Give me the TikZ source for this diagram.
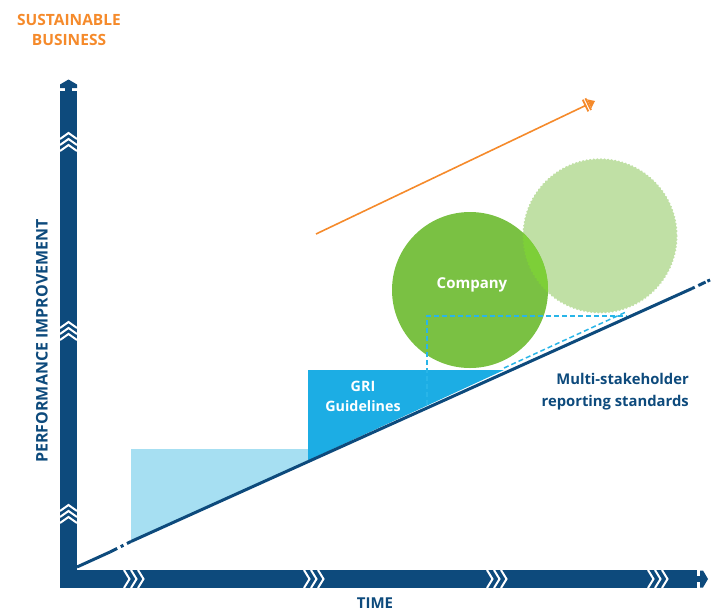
\documentclass[tikz,border=0pt]{standalone}
\usepackage{fontspec}
\setmainfont{Open Sans}
\usetikzlibrary{calc,decorations.pathmorphing}
\definecolor{navy}{HTML}{0D4A7C}
\definecolor{lblue}{HTML}{A6DFF2}
\definecolor{griblue}{HTML}{1CADE4}
\definecolor{dashblue}{HTML}{29B5E8}
\definecolor{cgreen}{HTML}{7AC143}
\definecolor{lgreen}{HTML}{C0E0A5}
\definecolor{ovgreen}{HTML}{7DCF38}
\definecolor{orng}{HTML}{F58A2B}
\begin{document}
\begin{tikzpicture}[x=1pt,y=-1pt,
  lbl/.style={inner sep=0pt, align=center},
  chev/.style={draw=white, line width=2pt, line join=miter},
  scallop/.style={decorate, decoration={snake, segment length=3.6pt, amplitude=0.7pt}}]
\useasboundingbox (0,0) rectangle (718,611);
% axes
\fill[navy] (60,91) rectangle (77,588);
\fill[navy] (60,570) rectangle (697,588);
\fill[navy] (65,86) rectangle (72,92);
\fill[navy] (60,88) -- (60,84.5) -- (68.5,79.5) -- (77,84.5) -- (77,88) -- cycle;
\fill[navy] (696,576) rectangle (702,582);
\fill[navy] (700,570.5) -- (703,570.5) -- (708,579) -- (703,587.5) -- (700,587.5) -- cycle;
% chevrons
\foreach \y in {133,322,505}{
  \foreach \k in {0,6,12}{
    \draw[chev] (60,\y+\k+6) -- (68.5,\y+\k) -- (77,\y+\k+6);
  }}
\foreach \x in {124,304,487,648}{
  \foreach \k in {0,7,14}{
    \draw[chev] (\x+\k,570) -- (\x+\k+5.5,579) -- (\x+\k,588);
  }}
% labels
\node[lbl, text=orng, font=\bfseries\fontsize{15.5}{19.5}\selectfont] (sb) at (69,30) {SUSTAINABLE\\BUSINESS};
\node[lbl, text=navy, rotate=90, font=\bfseries\fontsize{16}{20}\selectfont] (pi) at (42,341) {PERFORMANCE IMPROVEMENT};
\node[lbl, text=navy, font=\bfseries\fontsize{15}{20}\selectfont] (time) at (375,603) {TIME};
% steps
\coordinate (d0) at (77,567);
\coordinate (d1) at (110,552);
\coordinate (d2) at (131,541.5);
\coordinate (d3) at (692,288.5);
\coordinate (d4) at (712,279);
\fill[lblue] (131,449) -- (308,449) -- (308,460.5) -- (131,541.5) -- cycle;
\fill[griblue] (308,370) -- (504,370) -- (308,460.5) -- cycle;
\node[lbl, text=white, font=\bfseries\fontsize{14.3}{20}\selectfont] (gri) at (363,396) {GRI\\Guidelines};
% circles
\fill[lgreen, scallop] (600,235) circle (77);
\fill[cgreen] (470,290) circle (78);
\begin{scope}
  \clip (470,290) circle (78);
  \fill[ovgreen, scallop] (600,235) circle (77);
\end{scope}
\node[lbl, text=white, font=\bfseries\fontsize{15}{20}\selectfont] (comp) at (472,285) {Company};
% dashed outline
\draw[dashblue, line width=1.5pt, dash pattern=on 5pt off 3pt]
  (427,405) -- (427,316) -- (627,316);
\draw[dashblue, line width=1.5pt, dash pattern=on 5pt off 3pt]
  (504,368) -- (627,311.5);
% diagonal
\draw[navy, line width=3pt] (d0) -- (d1);
\draw[navy, line width=3pt, dash pattern=on 8pt off 4pt on 3pt off 4pt] (d1) -- (d2);
\draw[navy, line width=3pt] (d2) -- (d3);
\draw[navy, line width=3pt, dash pattern=on 3pt off 4pt on 8pt off 2pt] (d3) -- (d4);
\node[lbl, text=navy, align=right, anchor=east, font=\bfseries\fontsize{14.8}{22}\selectfont] (msr) at (689,392) {Multi-stakeholder\\reporting standards};
% orange arrow
\coordinate (oa) at (316,234);
\coordinate (ob) at (595,101);
\coordinate (tb) at ($(ob)!6.5pt!(oa)$);
\coordinate (b1) at ($(ob)!7.5pt!(oa)$);
\coordinate (b2) at ($(ob)!10.5pt!(oa)$);
\draw[orng, line width=1.6pt] (oa) -- (b2);
\fill[orng] (ob) -- ($(tb)!5pt!90:(ob)$) -- ($(tb)!5pt!-90:(ob)$) -- cycle;
\draw[orng, line width=1.8pt] ($(b1)!6.5pt!90:(ob)$) -- ($(b1)!6.5pt!-90:(ob)$);
\draw[orng, line width=1.8pt] ($(b2)!6.5pt!90:(ob)$) -- ($(b2)!6.5pt!-90:(ob)$);
\end{tikzpicture}
\end{document}
